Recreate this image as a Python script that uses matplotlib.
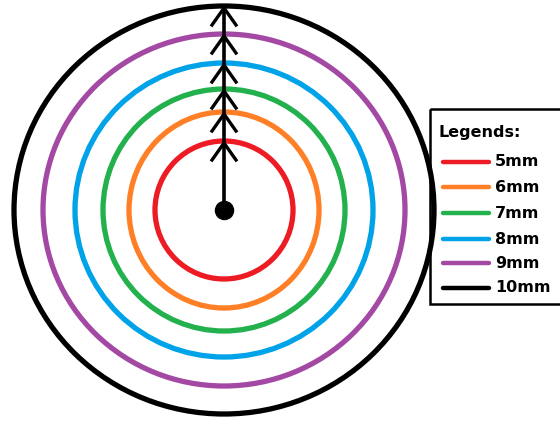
import matplotlib.pyplot as plt
from matplotlib.patches import Ellipse, Rectangle

# ring sizes and their colours (MS Paint palette)
sizes = ['5mm', '6mm', '7mm', '8mm', '9mm', '10mm']
colors = ['#ED1C24', '#FF7F27', '#22B14C', '#00A2E8', '#A349A4', '#000000']

# ring radii in pixels (hand drawn, slightly oval)
radius_x = [69, 95, 121, 149, 181, 210]
radius_y = [69, 98, 121, 147, 176, 204]

center = (224, 210)


fig = plt.figure(figsize=(5.6, 4.22), dpi=100)
ax = fig.add_axes([0, 0, 1, 1])
ax.set_xlim(0, 560)
ax.set_ylim(422, 0)
ax.axis('off')

# concentric rings
for rx, ry, c in zip(radius_x, radius_y, colors):
    ax.add_patch(Ellipse(center, 2*rx, 2*ry, fill=False, edgecolor=c, lw=3.8, zorder=2))

# vertical line from the centre dot to the outer ring
cx, cy = center
ax.plot([cx, cx], [cy, cy - radius_y[-1] + 2], color='black', lw=2.6, zorder=3)
ax.plot(cx, cy, 'o', color='black', ms=13, zorder=4)

# chevrons at the top of every ring
for ry in radius_y:
    tip = cy - ry + 2
    ax.plot([cx - 12, cx, cx + 12], [tip + 17, tip, tip + 17],
            color='black', lw=2.4, solid_joinstyle='miter', zorder=3)

# legend box
ax.add_patch(Rectangle((430, 109), 140, 195, fill=False, edgecolor='black', lw=1.8,
                       zorder=2, clip_on=False))
ax.text(439, 133, 'Legends:', fontsize=11.5, fontweight='bold', va='center',
        family='DejaVu Sans')

entry_y = [162, 187, 213, 239, 263, 288]
for y, c, s in zip(entry_y, colors, sizes):
    ax.plot([443, 489], [y, y], color=c, lw=3.2, solid_capstyle='round')
    ax.text(495, y, s, fontsize=11.5, fontweight='bold', va='center',
            family='DejaVu Sans')

fig.savefig('out.png', dpi=100)
